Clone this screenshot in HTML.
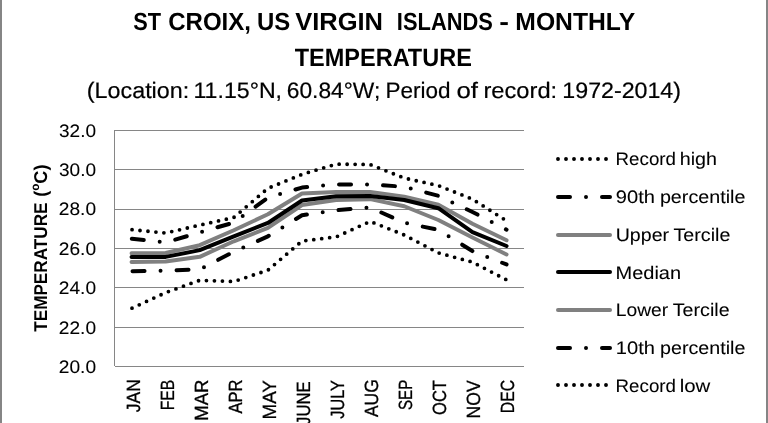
<!DOCTYPE html>
<html><head><meta charset="utf-8"><title>St Croix monthly temperature</title>
<style>
html,body{margin:0;padding:0;background:#fff;}
body{width:768px;height:423px;overflow:hidden;font-family:"Liberation Sans",sans-serif;}
svg{display:block;will-change:transform;filter:grayscale(1)}
text{font-family:"Liberation Sans",sans-serif;fill:#000;text-rendering:geometricPrecision}
.x{stroke:#000;stroke-width:0.3px}
.n{stroke:#000;stroke-width:0.08px}
.s{stroke:#000;stroke-width:0.2px}
</style></head><body>
<svg width="768" height="423" viewBox="0 0 768 423">
<rect x="0" y="0" width="768" height="423" fill="#fff"/>
<rect x="0" y="0" width="2" height="423" fill="#858585"/>
<rect x="766" y="0" width="2" height="423" fill="#858585"/>

<g stroke="#868686" stroke-width="1" fill="none" shape-rendering="crispEdges">
<line x1="114.50" y1="366.40" x2="523.60" y2="366.40"/>
<line x1="114.50" y1="327.05" x2="523.60" y2="327.05"/>
<line x1="114.50" y1="287.70" x2="523.60" y2="287.70"/>
<line x1="114.50" y1="248.35" x2="523.60" y2="248.35"/>
<line x1="114.50" y1="209.00" x2="523.60" y2="209.00"/>
<line x1="114.50" y1="169.65" x2="523.60" y2="169.65"/>
<line x1="114.50" y1="130.30" x2="523.60" y2="130.30"/>
<line x1="114.50" y1="130.30" x2="114.50" y2="366.40"/>
</g>
<g fill="none" stroke-linecap="round" stroke-linejoin="round">
<polyline points="131.55,229.66 165.64,233.00 199.73,225.13 233.82,217.46 267.91,188.34 302.00,174.37 336.10,164.14 370.19,164.53 404.28,178.11 438.37,185.59 472.46,199.16 506.55,220.81" stroke="#000" stroke-width="3.8" stroke-dasharray="0 8" stroke-dashoffset="-0.5"/>
<polyline points="131.55,238.71 165.64,242.45 199.73,232.41 233.82,222.58 267.91,197.59 302.00,187.55 336.10,184.41 370.19,184.41 404.28,186.77 438.37,195.82 472.46,211.95 506.55,229.66" stroke="#000" stroke-width="4.0" stroke-dasharray="12 16 0 16" stroke-dashoffset="-0.3"/>
<polyline points="131.55,253.17 165.64,252.97 199.73,245.20 233.82,230.25 267.91,214.31 302.00,193.46 336.10,191.88 370.19,192.08 404.28,196.80 438.37,204.67 472.46,223.76 506.55,240.28" stroke="#808080" stroke-width="4.0"/>
<polyline points="131.55,262.02 165.64,261.43 199.73,256.81 233.82,241.27 267.91,227.89 302.00,205.07 336.10,199.95 370.19,199.16 404.28,206.25 438.37,220.02 472.46,237.53 506.55,254.45" stroke="#808080" stroke-width="4.0"/>
<polyline points="131.55,257.11 165.64,256.91 199.73,250.12 233.82,236.35 267.91,222.97 302.00,200.54 336.10,196.21 370.19,196.01 404.28,199.95 438.37,208.21 472.46,232.22 506.55,245.99" stroke="#000" stroke-width="4.0"/>
<polyline points="131.55,271.17 165.64,270.58 199.73,269.40 233.82,251.69 267.91,236.35 302.00,215.30 336.10,210.18 370.19,207.43 404.28,222.77 438.37,229.86 472.46,251.10 506.55,264.48" stroke="#000" stroke-width="4.0" stroke-dasharray="12 16 0 16" stroke-dashoffset="-1"/>
<polyline points="131.55,308.36 165.64,292.62 199.73,280.32 233.82,281.50 267.91,270.19 302.00,241.07 336.10,236.94 370.19,221.40 404.28,234.97 438.37,252.88 472.46,262.12 506.55,279.83" stroke="#000" stroke-width="3.8" stroke-dasharray="0 8" stroke-dashoffset="-0.5"/>
<line x1="558" y1="159.00" x2="607" y2="159.00" stroke="#000" stroke-width="3.9" stroke-dasharray="0 8"/>
<line x1="558" y1="197.00" x2="610" y2="197.00" stroke="#000" stroke-width="4" stroke-dasharray="12 16 0 16"/>
<line x1="558" y1="235.00" x2="610" y2="235.00" stroke="#808080" stroke-width="4"/>
<line x1="558" y1="272.00" x2="610" y2="272.00" stroke="#000" stroke-width="4"/>
<line x1="558" y1="310.00" x2="610" y2="310.00" stroke="#808080" stroke-width="4"/>
<line x1="558" y1="348.00" x2="610" y2="348.00" stroke="#000" stroke-width="4" stroke-dasharray="12 16 0 16"/>
<line x1="558" y1="385.00" x2="607" y2="385.00" stroke="#000" stroke-width="3.9" stroke-dasharray="0 8"/>
</g>
<g>
<text transform="translate(294.77,65.60) scale(0.9372,1)" font-size="25.07" font-weight="bold">TEMPERATURE</text>
<text transform="translate(59.04,136.77) scale(1.0478,1)" font-size="18.17" font-weight="normal" class="n">32.0</text>
<text transform="translate(59.04,176.12) scale(1.0478,1)" font-size="18.17" font-weight="normal" class="n">30.0</text>
<text transform="translate(58.84,215.47) scale(1.0534,1)" font-size="18.17" font-weight="normal" class="n">28.0</text>
<text transform="translate(58.84,254.82) scale(1.0534,1)" font-size="18.17" font-weight="normal" class="n">26.0</text>
<text transform="translate(58.84,294.17) scale(1.0534,1)" font-size="18.17" font-weight="normal" class="n">24.0</text>
<text transform="translate(58.84,333.52) scale(1.0534,1)" font-size="18.17" font-weight="normal" class="n">22.0</text>
<text transform="translate(58.84,372.87) scale(1.0534,1)" font-size="18.17" font-weight="normal" class="n">20.0</text>
<text y="30.40" font-size="24.78" font-weight="bold"><tspan x="133.15" textLength="27.83" lengthAdjust="spacingAndGlyphs">ST</tspan> <tspan x="168.24" textLength="82.72" lengthAdjust="spacingAndGlyphs">CROIX,</tspan> <tspan x="257.06" textLength="33.28" lengthAdjust="spacingAndGlyphs">US</tspan> <tspan x="295.15" textLength="87.81" lengthAdjust="spacingAndGlyphs">VIRGIN</tspan> <tspan x="396.87" textLength="96.09" lengthAdjust="spacingAndGlyphs">ISLANDS</tspan> <tspan x="499.23" textLength="9.73" lengthAdjust="spacingAndGlyphs">-</tspan> <tspan x="515.37" textLength="119.78" lengthAdjust="spacingAndGlyphs">MONTHLY</tspan></text>
<text y="97.90" font-size="22.32" font-weight="normal" class="s"><tspan x="86.80" textLength="102.44" lengthAdjust="spacingAndGlyphs">(Location:</tspan> <tspan x="193.45" textLength="88.59" lengthAdjust="spacingAndGlyphs">11.15°N,</tspan> <tspan x="286.76" textLength="93.50" lengthAdjust="spacingAndGlyphs">60.84°W;</tspan> <tspan x="385.50" textLength="65.07" lengthAdjust="spacingAndGlyphs">Period</tspan> <tspan x="456.47" textLength="21.54" lengthAdjust="spacingAndGlyphs">of</tspan> <tspan x="483.44" textLength="73.75" lengthAdjust="spacingAndGlyphs">record:</tspan> <tspan x="562.34" textLength="118.67" lengthAdjust="spacingAndGlyphs">1972-2014)</tspan></text>
<text y="164.80" font-size="18.12" font-weight="normal" class="n"><tspan x="615.60" textLength="60.39" lengthAdjust="spacingAndGlyphs">Record</tspan> <tspan x="679.72" textLength="37.28" lengthAdjust="spacingAndGlyphs">high</tspan></text>
<text y="202.90" font-size="18.12" font-weight="normal" class="n"><tspan x="615.79" textLength="39.14" lengthAdjust="spacingAndGlyphs">90th</tspan> <tspan x="659.92" textLength="85.49" lengthAdjust="spacingAndGlyphs">percentile</tspan></text>
<text y="240.90" font-size="18.12" font-weight="normal" class="n"><tspan x="615.73" textLength="53.34" lengthAdjust="spacingAndGlyphs">Upper</tspan> <tspan x="673.51" textLength="56.87" lengthAdjust="spacingAndGlyphs">Tercile</tspan></text>
<text y="278.90" font-size="18.12" font-weight="normal" class="n"><tspan x="615.50" textLength="65.60" lengthAdjust="spacingAndGlyphs">Median</tspan></text>
<text y="315.90" font-size="18.12" font-weight="normal" class="n"><tspan x="615.76" textLength="52.40" lengthAdjust="spacingAndGlyphs">Lower</tspan> <tspan x="672.81" textLength="56.77" lengthAdjust="spacingAndGlyphs">Tercile</tspan></text>
<text y="353.90" font-size="18.12" font-weight="normal" class="n"><tspan x="615.89" textLength="39.14" lengthAdjust="spacingAndGlyphs">10th</tspan> <tspan x="660.02" textLength="85.38" lengthAdjust="spacingAndGlyphs">percentile</tspan></text>
<text y="391.90" font-size="18.12" font-weight="normal" class="n"><tspan x="615.60" textLength="60.39" lengthAdjust="spacingAndGlyphs">Record</tspan> <tspan x="679.67" textLength="30.64" lengthAdjust="spacingAndGlyphs">low</tspan></text>
<text transform="translate(47.20,331.77) rotate(-90) scale(0.9255,1)" font-size="18.55" font-weight="bold">TEMPERATURE</text>
<text transform="translate(47.20,196.81) rotate(-90) scale(0.9787,1)" font-size="18.55" font-weight="bold">(<tspan font-size="0.64em" dy="-0.72em">o</tspan><tspan dy="0.461em">C)</tspan></text>
<text transform="translate(139.80,412.25) rotate(-90) scale(0.9170,1)" font-size="19.13" font-weight="normal" class="x">JAN</text>
<text transform="translate(173.82,410.26) rotate(-90) scale(0.8231,1)" font-size="19.13" font-weight="normal" class="x">FEB</text>
<text transform="translate(207.84,420.68) rotate(-90) scale(0.9679,1)" font-size="19.13" font-weight="normal" class="x">MAR</text>
<text transform="translate(241.86,413.60) rotate(-90) scale(0.8651,1)" font-size="19.13" font-weight="normal" class="x">APR</text>
<text transform="translate(275.88,419.40) rotate(-90) scale(0.9824,1)" font-size="19.13" font-weight="normal" class="x">MAY</text>
<text transform="translate(309.90,424.93) rotate(-90) scale(0.8733,1)" font-size="19.13" font-weight="normal" class="x">JUNE</text>
<text transform="translate(343.92,418.73) rotate(-90) scale(0.8503,1)" font-size="19.13" font-weight="normal" class="x">JULY</text>
<text transform="translate(377.94,417.10) rotate(-90) scale(0.9154,1)" font-size="19.13" font-weight="normal" class="x">AUG</text>
<text transform="translate(411.96,409.96) rotate(-90) scale(0.7896,1)" font-size="19.13" font-weight="normal" class="x">SEP</text>
<text transform="translate(445.98,414.92) rotate(-90) scale(0.8610,1)" font-size="19.13" font-weight="normal" class="x">OCT</text>
<text transform="translate(480.00,418.40) rotate(-90) scale(0.9173,1)" font-size="19.13" font-weight="normal" class="x">NOV</text>
<text transform="translate(514.02,413.16) rotate(-90) scale(0.8248,1)" font-size="19.13" font-weight="normal" class="x">DEC</text>
</g>
</svg>
</body></html>
